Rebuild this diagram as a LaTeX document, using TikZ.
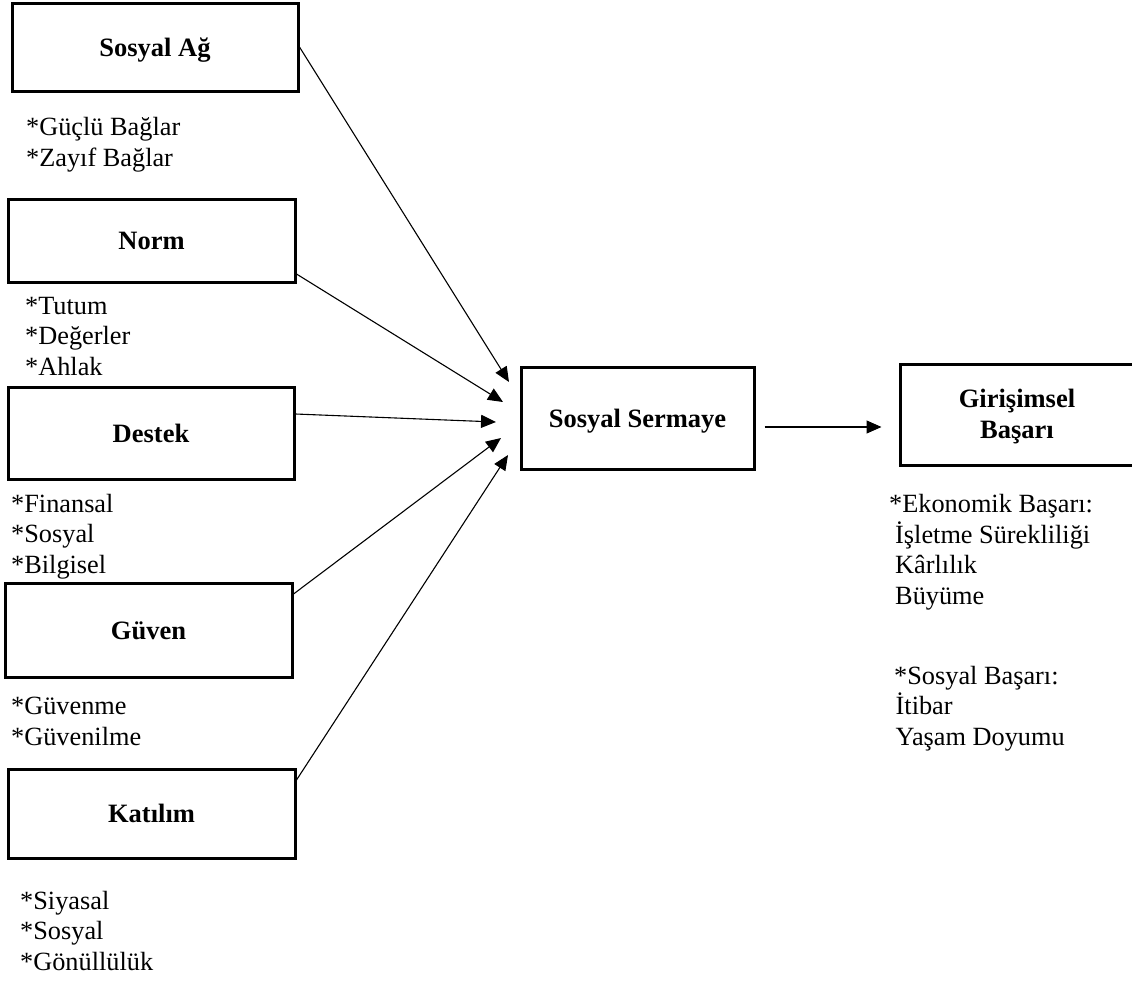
\documentclass[tikz,border=0pt]{standalone}
\usepackage{fontspec}
\setmainfont{Liberation Serif}
\usetikzlibrary{arrows.meta}
\begin{document}
\begin{tikzpicture}[x=1pt,y=-1pt,
  box/.style={draw, line width=3pt, rectangle, inner sep=0pt,
    font=\fontsize{26.5}{31}\selectfont\bfseries, text height=18pt, text depth=0pt},
  boxtext/.style={inner sep=0pt, align=center, font=\fontsize{26.5}{31}\selectfont\bfseries},
  lst/.style={anchor=base west, inner sep=0pt, align=left, font=\fontsize{26.3}{30.5}\selectfont},
  conn/.style={line width=1.1pt, -{Triangle[length=15pt,width=13pt]}}]
\useasboundingbox (0,0) rectangle (1132,983);

% boxes
\node[box, minimum width=286pt, minimum height=88pt] (sa) at (155,47) {Sosyal Ağ};
\node[box, minimum width=287pt, minimum height=83pt] (norm) at (151.5,240.5) {Norm};
\node[box, minimum width=286pt, minimum height=92pt] (destek) at (151,433) {Destek};
\node[box, minimum width=287pt, minimum height=94pt] (guven) at (148.5,630) {Güven};
\node[box, minimum width=287pt, minimum height=89pt] (katilim) at (151.5,813.5) {Katılım};
\node[box, minimum width=233pt, minimum height=102pt] (ss) at (637.5,418) {Sosyal Sermaye};
\node[box, minimum width=234pt, minimum height=101pt] (gb) at (1017,414.5) {};
\node[boxtext] (gbt) at ([yshift=-2pt]gb.center) {Girişimsel\\Başarı};

% arrow tips
\coordinate (t1) at (509,382);
\coordinate (t2) at (503,402);
\coordinate (t3) at (496,422);
\coordinate (t4) at (501,438);
\coordinate (t5) at (508,455);

% connectors
\draw[conn] (sa.east) -- (t1);
\draw[conn] ([yshift=-33.5pt]norm.east) -- (t2);
\draw[conn] ([yshift=19pt]destek.east) -- (t3);
\draw[conn] ([yshift=36pt]guven.east) -- (t4);
\draw[conn] ([yshift=33.5pt]katilim.east) -- (t5);
\draw[conn] ([xshift=9pt,yshift=-9pt]ss.east) -- ([xshift=-17pt,yshift=-12.5pt]gb.west);

% lists (anchored at the baseline of their last line)
\node[lst] (l1) at (26,166) {*Güçlü Bağlar\\*Zayıf Bağlar};
\node[lst] (l2) at (25,375) {*Tutum\\*Değerler\\*Ahlak};
\node[lst] (l3) at (11,573) {*Finansal\\*Sosyal\\*Bilgisel};
\node[lst] (l4) at (11,745) {*Güvenme\\*Güvenilme};
\node[lst] (l5) at (20,970) {*Siyasal\\*Sosyal\\*Gönüllülük};
\node[lst] (l6) at (889,604) {*Ekonomik Başarı:\\\hspace*{6pt}İşletme Sürekliliği\\\hspace*{6pt}Kârlılık\\\hspace*{6pt}Büyüme};
\node[lst] (l7) at (894,745) {*Sosyal Başarı:\\\hspace*{1.5pt}İtibar\\\hspace*{1.5pt}Yaşam Doyumu};
\end{tikzpicture}
\end{document}
